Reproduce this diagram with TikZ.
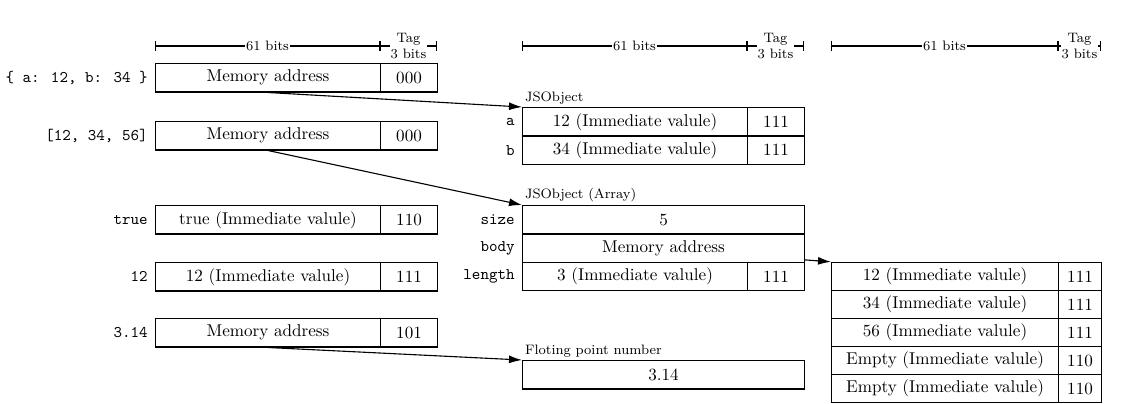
\documentclass[tikz,border=0pt]{standalone}
\usetikzlibrary{arrows.meta,calc}
\begin{document}
\begin{tikzpicture}[x=0.585pt,y=-0.585pt,
  line width=0.65pt,
  cell/.style={draw, anchor=north west, inner sep=0pt, minimum height=28.4*0.585pt},
  w/.style={minimum width=#1*0.585pt},
  rowlabel/.style={anchor=east, inner sep=4pt, font=\fontsize{9.5}{11}\ttfamily},
  title/.style={anchor=south west, inner sep=1.5pt, font=\footnotesize},
  dim/.style={{Bar[width=10*0.585pt]}-{Bar[width=10*0.585pt]}},
  dimtext/.style={fill=white, inner sep=0.5pt, font=\footnotesize, align=center},
  arr/.style={-{Latex[length=13*0.585pt, width=8*0.585pt]}}]
\useasboundingbox (0,0) rectangle (1122,403);

% bit layout rulers
\foreach \a/\b/\c in {155/380/437, 522/747/804, 831/1058/1101}{
  \coordinate (d0) at (\a,46);
  \coordinate (d1) at (\b,46);
  \coordinate (d2) at (\c,46);
  \draw[dim] (d0) -- node[dimtext]{61 bits} (d1);
  \draw[dim] (d1) -- node[dimtext]{Tag\\3 bits} (d2);
}

% tagged values
\node[cell, w=225] (m1) at (155,63) {Memory address};
\node[cell, w=57]  (t1) at (380,63) {000};
\node[rowlabel] (l1) at (m1.west) {\{ a: 12, b: 34 \}};

\node[cell, w=225] (m2) at (155,121) {Memory address};
\node[cell, w=57]  (t2) at (380,121) {000};
\node[rowlabel] (l2) at (m2.west) {[12, 34, 56]};

\node[cell, w=225] (m3) at (155,205) {true (Immediate valule)};
\node[cell, w=57]  (t3) at (380,205) {110};
\node[rowlabel] (l3) at (m3.west) {true};

\node[cell, w=225] (m4) at (155,262) {12 (Immediate valule)};
\node[cell, w=57]  (t4) at (380,262) {111};
\node[rowlabel] (l4) at (m4.west) {12};

\node[cell, w=225] (m5) at (155,318) {Memory address};
\node[cell, w=57]  (t5) at (380,318) {101};
\node[rowlabel] (l5) at (m5.west) {3.14};

% plain object
\node[cell, w=225] (oa) at (522,107) {12 (Immediate valule)};
\node[cell, w=57]  (oat) at (747,107) {111};
\node[cell, w=225] (ob) at (522,135.4) {34 (Immediate valule)};
\node[cell, w=57]  (obt) at (747,135.4) {111};
\node[title] (obj) at (oa.north west) {JSObject};
\node[rowlabel] (la) at (oa.west) {a};
\node[rowlabel] (lb) at (ob.west) {b};

% array object
\node[cell, w=282] (size) at (522,205) {5};
\node[cell, w=282] (body) at (522,233.4) {Memory address};
\node[cell, w=225] (len) at (522,261.8) {3 (Immediate valule)};
\node[cell, w=57]  (lent) at (747,261.8) {111};
\node[title] (arrt) at (size.north west) {JSObject (Array)};
\node[rowlabel] (lsize) at (size.west) {size};
\node[rowlabel] (lbody) at (body.west) {body};
\node[rowlabel] (llen) at (len.west) {length};

% heap number
\node[cell, w=282] (fp) at (522,360) {3.14};
\node[title] (fpt) at (fp.north west) {Floting point number};

% array elements
\foreach \i/\v/\t in {0/12/111, 1/34/111, 2/56/111, 3/Empty/110, 4/Empty/110}{
  \node[cell, w=227] (r\i) at (831,261.8+28*\i) {\v{} (Immediate valule)};
  \node[cell, w=43]  (rt\i) at (1058,261.8+28*\i) {\t};
}

% pointers
\draw[arr] (m1.south) -- (oa.north west);
\draw[arr] (m2.south) -- (size.north west);
\coordinate (bodyout) at ($(body.south east)+(0,-3)$);
\draw[arr] (bodyout) -- (r0.north west);
\draw[arr] (m5.south) -- (fp.north west);
\end{tikzpicture}
\end{document}
